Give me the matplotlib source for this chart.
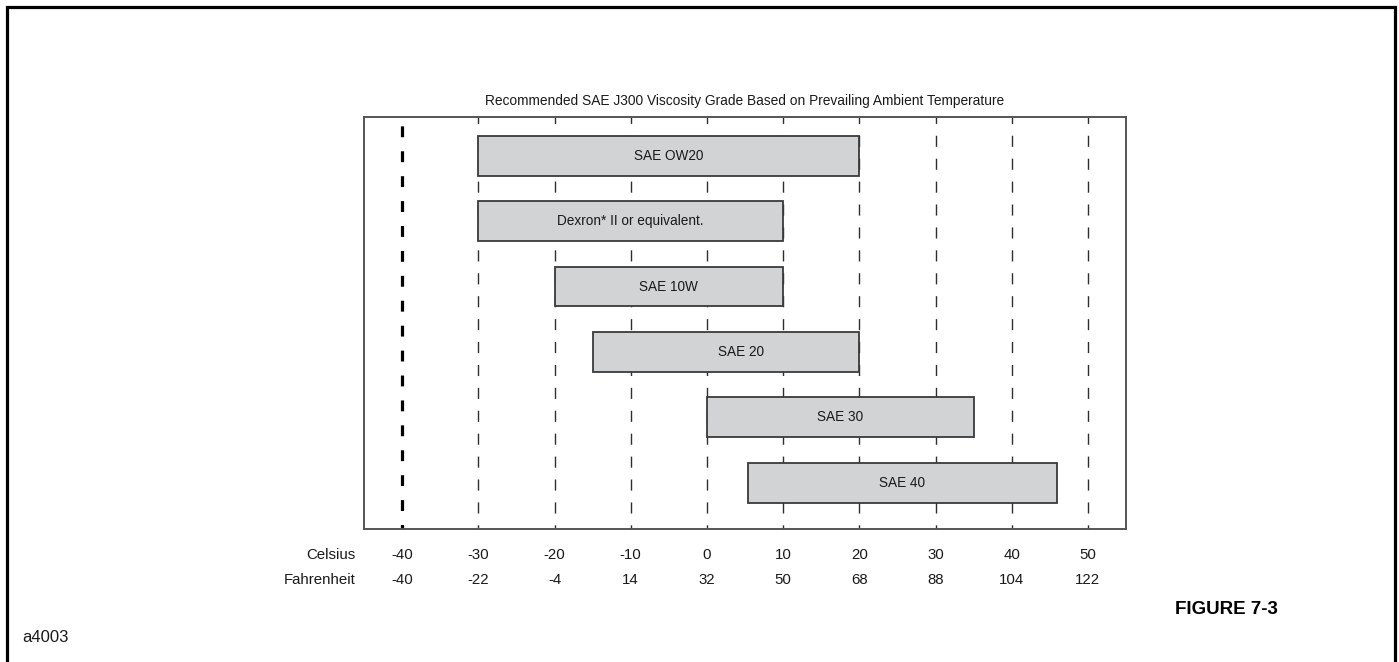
import matplotlib
matplotlib.use("Agg")
import matplotlib.pyplot as plt
from matplotlib.lines import Line2D
from matplotlib import font_manager

# ---- data ----
grades = ["SAE OW20", "Dexron* II or equivalent.", "SAE 10W", "SAE 20", "SAE 30", "SAE 40"]
start_c = [-30, -30, -20, -15, 0, 5.4]
end_c = [20, 10, 10, 20, 35, 45.9]
celsius_ticks = [-40, -30, -20, -10, 0, 10, 20, 30, 40, 50]
fahrenheit_labels = ["-40", "-22", "-4", "14", "32", "50", "68", "88", "104", "122"]
title = "Recommended SAE J300 Viscosity Grade Based on Prevailing Ambient Temperature"

names = {f.name for f in font_manager.fontManager.ttflist}
narrow = ["Liberation Sans Narrow"] if "Liberation Sans Narrow" in names else []
NARROW = narrow + ["Liberation Sans", "DejaVu Sans"]
REG = ["Liberation Sans", "DejaVu Sans"]

W, H = 1399, 662
fig = plt.figure(figsize=(W / 100, H / 100), dpi=100)
fig.patch.set_facecolor("white")

L, R, T, B = 364, 1126, 117.3, 529
ax = fig.add_axes([L / W, 1 - B / H, (R - L) / W, (B - T) / H])
ax.set_xlim(-45, 55)
ax.set_ylim(5.71, -0.59)

# gridlines
for c in celsius_ticks:
    if c == -40:
        ax.axvline(c, color="black", lw=2.3, linestyle=(2, (3.4, 4.4)), zorder=1)
    else:
        ax.axvline(c, color="#2e2e2e", lw=1.0, linestyle=(5, (8.0, 8.5)), zorder=1)

# bars
ypos = list(range(len(grades)))
widths = [e - s for s, e in zip(start_c, end_c)]
ax.barh(ypos, widths, left=start_c, height=0.61, color="#d2d3d5",
        edgecolor="#3a3a3a", linewidth=1.3, zorder=2)
label_shift = {"SAE 20": 2.0}
for y, s, e, g in zip(ypos, start_c, end_c, grades):
    ax.text((s + e) / 2 + label_shift.get(g, 0), y, g, ha="center", va="center",
            fontsize=9.8, family=NARROW, color="#1a1a1a", zorder=3)

ax.set_xticks([])
ax.set_yticks([])
for sp in ax.spines.values():
    sp.set_color("#555555")
    sp.set_linewidth(1.4)

# axis labels (Celsius / Fahrenheit rows)
yc = (B - 555) / (B - T)
yf = (B - 580) / (B - T)
trans = ax.get_xaxis_transform()
for c, f in zip(celsius_ticks, fahrenheit_labels):
    ax.text(c, yc, str(c), transform=trans, ha="center", va="center",
            fontsize=10.8, family=NARROW, color="#1a1a1a")
    ax.text(c, yf, f, transform=trans, ha="center", va="center",
            fontsize=10.8, family=NARROW, color="#1a1a1a")
ax.text(-0.011, yc, "Celsius", transform=ax.transAxes, ha="right", va="center",
        fontsize=10.8, family=NARROW, color="#1a1a1a")
ax.text(-0.011, yf, "Fahrenheit", transform=ax.transAxes, ha="right", va="center",
        fontsize=10.8, family=NARROW, color="#1a1a1a")

# title
ax.text(0.5, (B - 101) / (B - T), title, transform=ax.transAxes, ha="center",
        va="center", fontsize=9.9, family=NARROW, color="#1a1a1a")

# figure annotations
fig.text(22 / W, 1 - 637 / H, "a4003", ha="left", va="center", fontsize=12,
         family=REG, color="#1a1a1a")
fig.text(1278 / W, 1 - 609 / H, "FIGURE 7-3", ha="right", va="center",
         fontsize=13.5, family=REG, fontweight="bold", color="black")

# outer frame (left, top, right; open at bottom)
x0, x1, y0 = 7 / W, 1395 / W, 1 - 7 / H
fig.add_artist(Line2D([x0, x0, x1, x1], [0, y0, y0, 0], transform=fig.transFigure,
                      color="black", lw=2.3, solid_joinstyle="miter"))

fig.savefig("out.png", dpi=100, facecolor="white")
